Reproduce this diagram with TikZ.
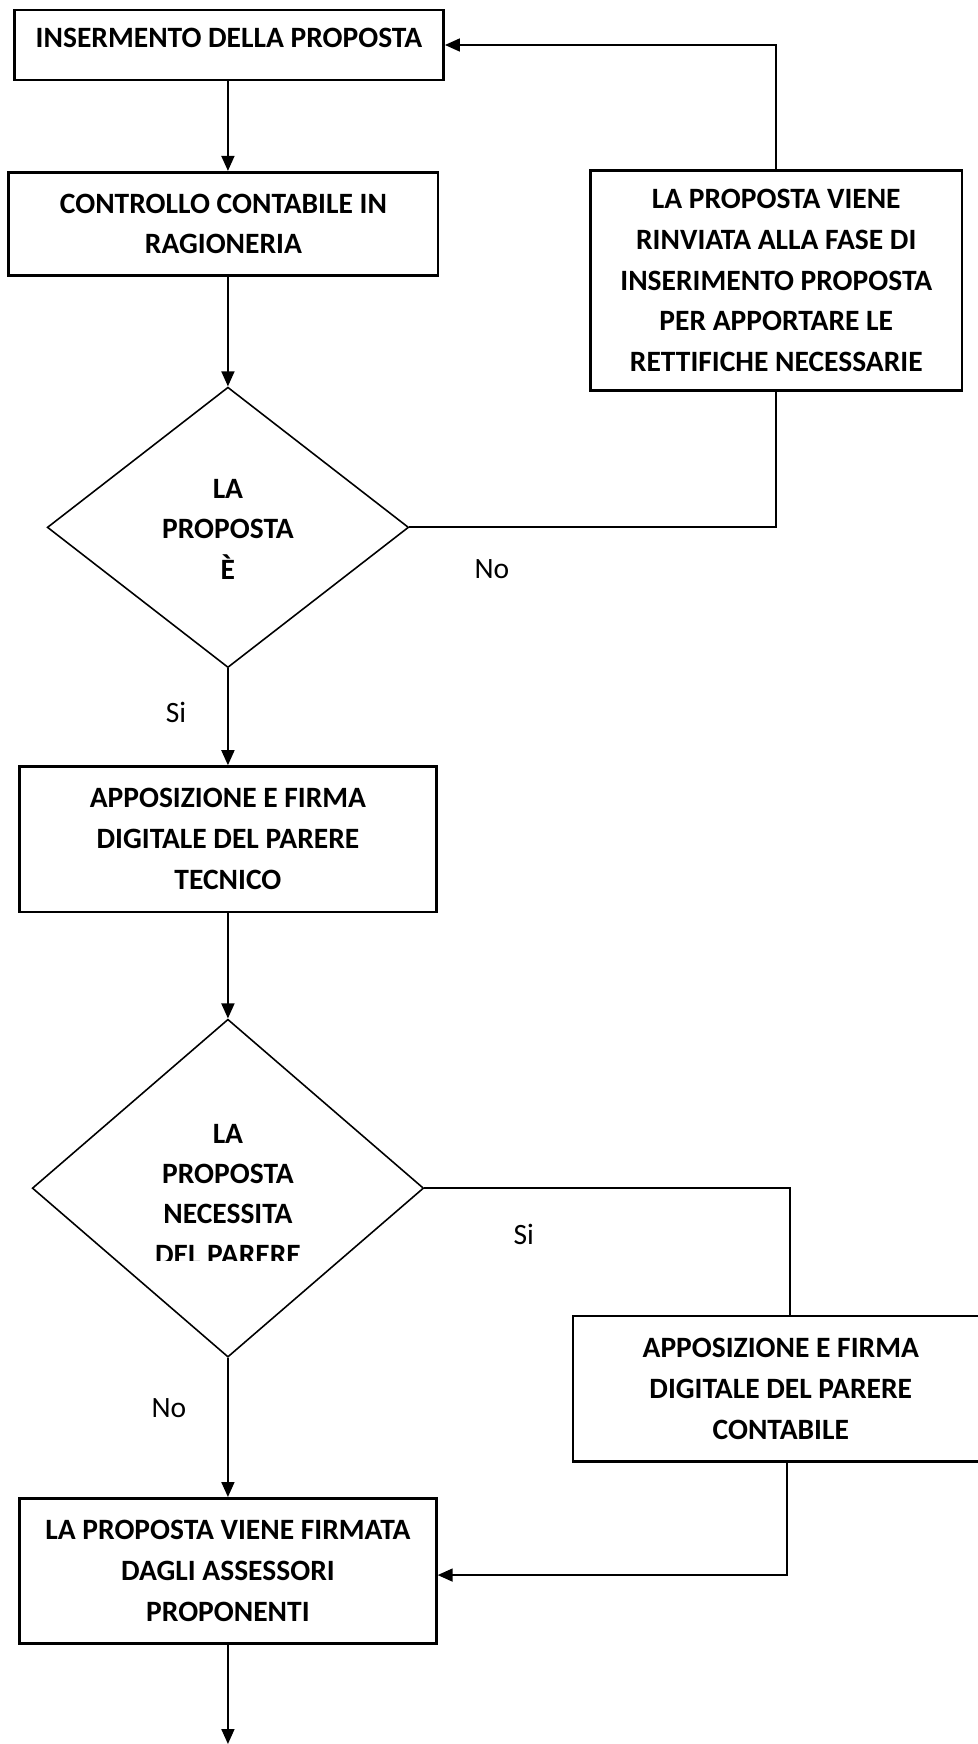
\documentclass[tikz,border=0pt]{standalone}
\usepackage{fontspec}
\setmainfont{Carlito}
\usepackage{tikz}
\usetikzlibrary{shapes.geometric,arrows.meta}

\begin{document}
\begin{tikzpicture}[->,>={Triangle[length=0.3cm,width=0.26cm]},line width=1pt,
              main node/.style={rectangle,draw,line width=1.5pt,align=center,inner sep=0pt,
                font=\fontsize{16.8}{23.3}\selectfont\bfseries},
              choice node/.style={diamond,draw,line width=0.9pt,inner sep=0pt},
              choice text/.style={align=center,inner sep=0pt,
                font=\fontsize{16.8}{23}\selectfont\bfseries},
              answer/.style={font=\fontsize{16.8}{20}\selectfont}]

            \useasboundingbox (0,0) rectangle (19.56,-34.89);

            \node[main node,minimum width=8.59cm,minimum height=1.40cm,
                  text height=0.38cm,text depth=0.28cm] (B1) at (4.58,-0.90) {INSERMENTO DELLA PROPOSTA};
            \node[main node,minimum width=8.59cm,minimum height=2.07cm] (B2) at (4.47,-4.48)
                {CONTROLLO CONTABILE IN\\RAGIONERIA};
            \node[main node,minimum width=7.43cm,minimum height=4.41cm] (B3) at (15.53,-5.61)
                {LA PROPOSTA VIENE\\RINVIATA ALLA FASE DI\\INSERIMENTO PROPOSTA\\PER APPORTARE LE\\RETTIFICHE NECESSARIE};
            \node[choice node,minimum width=7.23cm,minimum height=5.61cm] (D1) at (4.56,-10.55) {};
            \node[choice text] (D1t) at (4.56,-10.59) {LA\\PROPOSTA\\È};
            \node[main node,minimum width=8.34cm,minimum height=2.91cm] (B4) at (4.56,-16.79)
                {APPOSIZIONE E FIRMA\\DIGITALE DEL PARERE\\TECNICO};
            \node[choice node,minimum width=7.83cm,minimum height=6.76cm] (D2) at (4.56,-23.77) {};
            \begin{scope}
              \clip (0,-20) rectangle (9,-25.22);
              \node[choice text] (D2t) at (4.56,-23.89) {LA\\PROPOSTA\\NECESSITA\\DEL PARERE};
            \end{scope}
            \node[main node,minimum width=8.32cm,minimum height=2.91cm] (B5) at (15.62,-27.78)
                {APPOSIZIONE E FIRMA\\DIGITALE DEL PARERE\\CONTABILE};
            \node[main node,minimum width=8.34cm,minimum height=2.91cm] (B6) at (4.56,-31.43)
                {LA PROPOSTA VIENE FIRMATA\\DAGLI ASSESSORI\\PROPONENTI};

            \node[answer] (no1) at (9.84,-11.39) {No};
            \node[answer] (si1) at (3.52,-14.26) {Si};
            \node[answer] (si2) at (10.48,-24.70) {Si};
            \node[answer] (no2) at (3.38,-28.17) {No};

            \coordinate (S1) at (4.56,-1.60);
            \coordinate (S2) at (15.80,-23.77);
            \coordinate (S3) at (15.75,-31.51);
            \coordinate (end) at (4.56,-34.89);

            \path[every node/.style={}]
            (B1.south -| S1) edge (S1 |- B2.north)
            (D1.north |- B2.south) edge (D1.north)
            (D1.south) edge (B4.north)
            (B4.south) edge (D2.north)
            (D2.south) edge (B6.north)
            (B6.south) edge (end);

            \draw[-] (D1.east) -| (B3.south);
            \draw (B3.north) |- (B1.east);
            \draw[-] (D2.east) -- (S2) -- (S2 |- B5.north);
            \draw (S3 |- B5.south) -- (S3) -- (S3 -| B6.east);

          \end{tikzpicture}
\end{document}
